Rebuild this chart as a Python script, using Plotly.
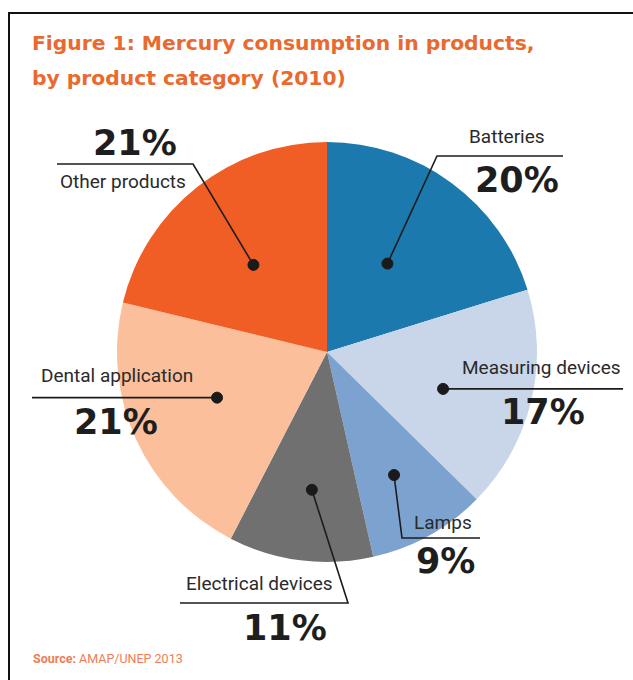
import math
import plotly.graph_objects as go

# ---- data ----
categories = ["Batteries", "Measuring devices", "Lamps", "Electrical devices",
              "Dental application", "Other products"]
shares = [20, 17, 9, 11, 21, 21]
slice_colors = ["#1b79ae", "#c9d6ea", "#7ca3d0", "#707070", "#fbbf9b", "#f15e25"]

title_lines = ["Figure 1: Mercury consumption in products,",
               "by product category (2010)"]
source_bold = "Source:"
source_rest = " AMAP/UNEP 2013"

W, H = 633, 680
CX, CY, R = 327, 352, 210


def px(x, y):
    return x / W, 1 - y / H


# layout for each callout: radius fraction + angle nudge for the dot,
# elbow point, end of underline, label / percent positions
callouts = {
    "Batteries": dict(rf=0.51, dang=-2, elbow=(437, 156), end=563,
                      lab=(507, 137), pct=(517, 180)),
    "Measuring devices": dict(rf=0.58, dang=4, elbow=None, end=623,
                              lab=(541, 367), pct=(543, 412)),
    "Lamps": dict(rf=0.667, dang=0.5, elbow=(402, 538), end=480,
                  lab=(443, 522), pct=(445, 561)),
    "Electrical devices": dict(rf=0.66, dang=-1, elbow=(348, 603), end=180,
                               lab=(259, 583), pct=(285, 628)),
    "Dental application": dict(rf=0.567, dang=2, elbow=None, end=32,
                               lab=(117, 375), pct=(116, 422)),
    "Other products": dict(rf=0.543, dang=-2, elbow=(193, 164), end=57,
                           lab=(123, 182), pct=(135, 143)),
}

fig = go.Figure()
d0 = px(CX - R, CY + R)
d1 = px(CX + R, CY - R)
fig.add_trace(go.Pie(
    labels=categories, values=shares, sort=False, direction="clockwise",
    rotation=0, marker=dict(colors=slice_colors, line=dict(width=0)),
    textinfo="none", hoverinfo="label+percent", showlegend=False,
    domain=dict(x=[d0[0], d1[0]], y=[d0[1], d1[1]]),
))

shapes = []
annotations = []
total = sum(shares)
cum = 0
LABEL_FONT = "Roboto, Liberation Sans, sans-serif"
PCT_FONT = "DejaVu Sans, Open Sans, sans-serif"
LINE_COL = "#1c1c1c"
for cat, v in zip(categories, shares):
    c = callouts[cat]
    ang = math.radians(360 * (cum + v / 2) / total + c["dang"])
    cum += v
    dx = CX + c["rf"] * R * math.sin(ang)
    dy = CY - c["rf"] * R * math.cos(ang)
    if c["elbow"] is None:
        pts = [(dx, dy), (c["end"], dy)]
    else:
        ex, ey = c["elbow"]
        pts = [(dx, dy), (ex, ey), (c["end"], ey)]
    path = "M " + " L ".join(f"{px(x, y)[0]:.5f},{px(x, y)[1]:.5f}" for x, y in pts)
    shapes.append(dict(type="path", xref="paper", yref="paper", path=path,
                       line=dict(color=LINE_COL, width=1.6)))
    r = 5.5
    a = px(dx - r, dy + r)
    b = px(dx + r, dy - r)
    shapes.append(dict(type="circle", xref="paper", yref="paper",
                       x0=a[0], y0=a[1], x1=b[0], y1=b[1],
                       fillcolor="#1a1a1a", line=dict(color="#1a1a1a", width=1)))
    lx, ly = px(*c["lab"])
    annotations.append(dict(x=lx, y=ly, xref="paper", yref="paper", text=cat,
                            showarrow=False, xanchor="center", yanchor="middle",
                            font=dict(family=LABEL_FONT, size=19, color="#2a2a2a")))
    qx, qy = px(*c["pct"])
    annotations.append(dict(x=qx, y=qy, xref="paper", yref="paper", text=f"{v}%",
                            showarrow=False, xanchor="center", yanchor="middle",
                            font=dict(family=PCT_FONT, size=35, color="#1e1e1e",
                                      weight="bold")))

# title
for line, yy in zip(title_lines, [43, 78]):
    tx, ty = px(30, yy)
    annotations.append(dict(x=tx, y=ty, xref="paper", yref="paper", text=f"<b>{line}</b>",
                            showarrow=False, xanchor="left", yanchor="middle",
                            font=dict(family="DejaVu Sans, sans-serif", size=20.3,
                                      color="#e9692f")))
# source
sx, sy = px(31, 658)
annotations.append(dict(x=sx, y=sy, xref="paper", yref="paper",
                        text=f"<b>{source_bold}</b>{source_rest}",
                        showarrow=False, xanchor="left", yanchor="middle",
                        font=dict(family=LABEL_FONT, size=12.5, color="#ef7d55")))

# frame
f0 = px(9, 690)
f1 = px(645, 13)
shapes.append(dict(type="rect", xref="paper", yref="paper", x0=f0[0], y0=f0[1],
                   x1=f1[0], y1=f1[1], line=dict(color="#111111", width=2),
                   layer="below"))

fig.update_layout(width=W, height=H, margin=dict(l=0, r=0, t=0, b=0),
                  paper_bgcolor="white", plot_bgcolor="white",
                  shapes=shapes, annotations=annotations)

fig.write_html("out.html", config={"displayModeBar": False},
               post_script="document.body.style.margin='0';")
